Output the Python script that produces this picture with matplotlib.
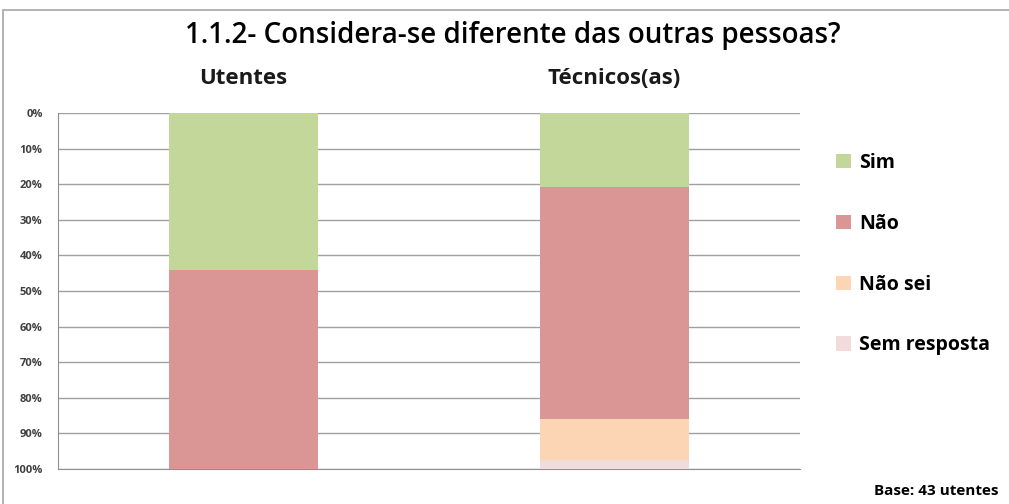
import numpy as np
import matplotlib.pyplot as plt
from matplotlib.patches import Rectangle

# data (percent of answers, bars drawn top-down)
groups = ["Utentes", "Técnicos(as)"]
answers = ["Sim", "Não", "Não sei", "Sem resposta"]
sim = [44.2, 20.7]
nao = [55.8, 65.3]
nao_sei = [0.0, 11.6]
sem_resposta = [0.0, 2.4]
series = [sim, nao, nao_sei, sem_resposta]
colors = ["#C4D79B", "#DA9694", "#FCD5B4", "#F2DCDB"]
tick_labels = ["%d%%" % v for v in range(0, 101, 10)]

plt.rcParams['font.family'] = ['Open Sans', 'DejaVu Sans']

fig = plt.figure(figsize=(10.09, 5.04), dpi=100)
W, H = 1009, 504

# chart frame (runs off the right and bottom edge like the original)
fig.patches.append(Rectangle((3 / W, -0.1), 1.1, 1.1 - 10 / H, transform=fig.transFigure,
                             fill=False, edgecolor="#a6a6a6", linewidth=1.2))

ax = fig.add_axes([58 / W, 1 - 469 / H, (800 - 58) / W, (469 - 113) / H])

x = np.arange(len(groups))
bottom = np.zeros(len(groups))
for vals, col, lab in zip(series, colors, answers):
    ax.bar(x, vals, width=0.40, bottom=bottom, color=col, label=lab, zorder=3)
    bottom += np.array(vals)

ax.set_xlim(-0.5, 1.5)
ax.set_ylim(100, 0)
ax.set_yticks(range(0, 101, 10))
ax.set_yticklabels(tick_labels, fontsize=8, fontweight='bold', color="#404040")
ax.set_xticks([])
ax.yaxis.grid(True, color="#a0a0a0", linewidth=1.0, zorder=0)
ax.tick_params(axis='y', length=0, pad=11)
for s in ["top", "right"]:
    ax.spines[s].set_visible(False)
ax.spines["left"].set_color("#909090")
ax.spines["bottom"].set_color("#909090")

# group labels above the bars
for xi, g in zip(x, groups):
    ax.text(xi, 1.0 + 35 / 356, g, transform=ax.get_xaxis_transform(), ha='center', va='center',
            fontsize=16, fontweight='bold', color="#1a1a1a")

fig.text(0.508, 1 - 35 / H, "1.1.2- Considera-se diferente das outras pessoas?",
         ha='center', va='center', fontsize=20, fontweight='semibold', color="#000000")

leg = ax.legend(loc='upper left', bbox_to_anchor=(1 + 36 / 742, 0.888), frameon=False,
                prop={'size': 14, 'weight': 'bold'}, handlelength=0.75, handleheight=0.75,
                handletextpad=0.45, labelspacing=2.1, borderaxespad=0, borderpad=0)

fig.text(0.99, 1 - 491 / H, "Base: 43 utentes", ha='right', va='center',
         fontsize=11, fontweight='bold', color="#000000")

fig.savefig("out.png", dpi=100)
